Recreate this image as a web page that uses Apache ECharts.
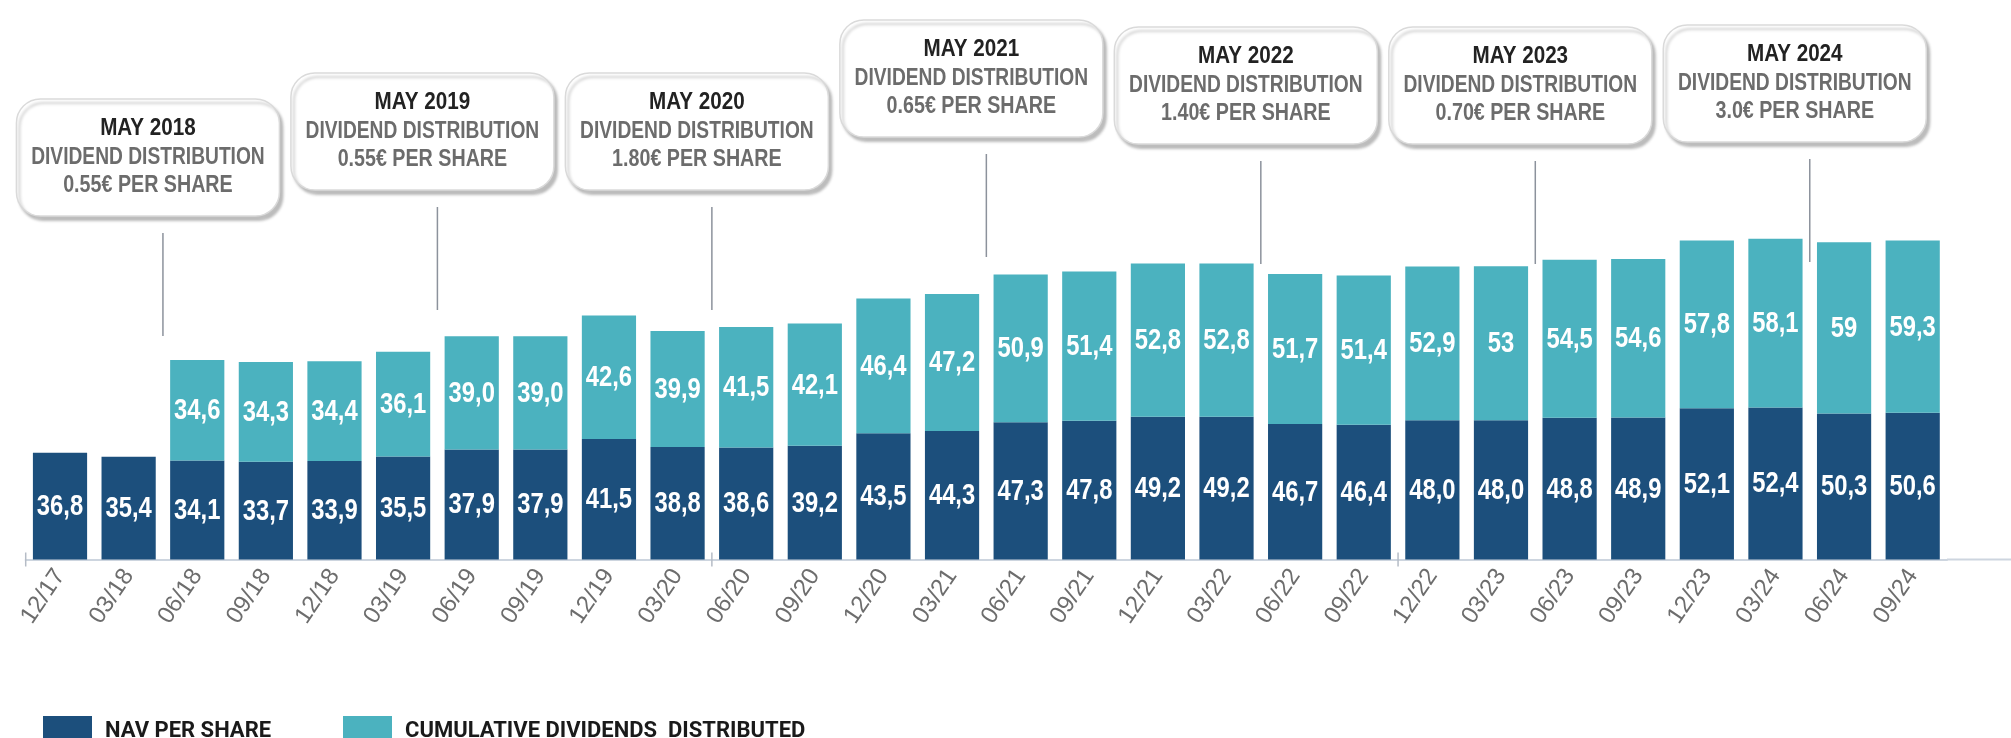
<!DOCTYPE html>
<html>
<head>
<meta charset="utf-8">
<script src="https://cdn.jsdelivr.net/npm/echarts@6/dist/echarts.min.js"></script>
<style>
  html, body { margin: 0; padding: 0; background: #ffffff; }
  #chart { width: 2011px; height: 738px; }
</style>
</head>
<body>
<div id="chart"></div>
<script>
// ---- data ----
const categories = ['12/17','03/18','06/18','09/18','12/18','03/19','06/19','09/19','12/19','03/20',
  '06/20','09/20','12/20','03/21','06/21','09/21','12/21','03/22','06/22','09/22',
  '12/22','03/23','06/23','09/23','12/23','03/24','06/24','09/24'];
const navValues = ['36.8','35.4','34.1','33.7','33.9','35.5','37.9','37.9','41.5','38.8',
  '38.6','39.2','43.5','44.3','47.3','47.8','49.2','49.2','46.7','46.4',
  '48.0','48.0','48.8','48.9','52.1','52.4','50.3','50.6'];
// NAV + cumulative dividends (value shown on the upper segment)
const totalValues = [null,null,'34.6','34.3','34.4','36.1','39.0','39.0','42.6','39.9',
  '41.5','42.1','46.4','47.2','50.9','51.4','52.8','52.8','51.7','51.4',
  '52.9','53','54.5','54.6','57.8','58.1','59','59.3'];
const dividendMonths = ['MAY 2018','MAY 2019','MAY 2020','MAY 2021','MAY 2022','MAY 2023','MAY 2024'];
const dividendAmounts = ['0.55€','0.55€','1.80€','0.65€','1.40€','0.70€','3.0€'];
const dividendFirstQuarterAfter = ['06/18','06/19','06/20','06/21','06/22','06/23','06/24'];
const seriesNames = ['NAV PER SHARE', 'CUMULATIVE DIVIDENDS  DISTRIBUTED'];
const axisTickBoundaries = [0, 10, 20];

// ---- layout / style ----
const boxTops = [99, 73, 73, 20, 27, 27, 25];
const BOX_W = 263, BOX_H = 117;
const SANS = '"Liberation Sans", Arial, sans-serif';
const NARROW_SCALE = 0.82;
const GRID_RIGHT = 64;
const GRID_BOTTOM = 178.5;
const AXIS_COLOR = '#cdd5df';
const TICK_COLOR = '#b5bcc6';

const chart = echarts.init(document.getElementById('chart'), null, { renderer: 'canvas' });

function narrowText(text, x, y, size, fill, scale) {
  return { type: 'text', x: x, y: y, scaleX: scale || NARROW_SCALE,
    style: { text: text, x: 0, y: 0, align: 'center', verticalAlign: 'middle',
      fontFamily: SANS, fontWeight: 'bold', fontSize: size, fill: fill } };
}

function renderAnnotation(params, api) {
  const i = params.dataIndex;
  const c = api.coord([api.value(0), 0]);
  const band = api.size([1, 0])[0];
  const lx = c[0] - band / 2;
  const top = boxTops[i];
  const bx = lx - 15 - BOX_W / 2;
  const cx = bx + BOX_W / 2;
  const lineTop = top + BOX_H + 17;
  return {
    type: 'group',
    children: [
      { type: 'line', shape: { x1: lx, y1: lineTop, x2: lx, y2: lineTop + 103 },
        style: { stroke: '#8c929c', lineWidth: 1.5 } },
      { type: 'rect', shape: { x: bx, y: top, width: BOX_W, height: BOX_H, r: 24 },
        style: { fill: '#ffffff', stroke: '#dadada', lineWidth: 1.5,
          shadowBlur: 3, shadowOffsetX: 3, shadowOffsetY: 4, shadowColor: 'rgba(0,0,0,0.25)' } },
      narrowText(dividendMonths[i], cx, top + 29, 24, '#222222', 0.86),
      narrowText('DIVIDEND DISTRIBUTION', cx, top + 58, 24, '#6c6c6c', 0.8),
      narrowText(dividendAmounts[i] + ' PER SHARE', cx, top + 86, 24, '#6c6c6c', 0.82)
    ]
  };
}

function renderBarLabels(params, api) {
  const idx = api.value(0);
  const nav = api.value(1);
  const total = api.value(2);
  const children = [];
  const p1 = api.coord([idx, nav / 2]);
  children.push(narrowText(navValues[params.dataIndex].replace('.', ','), p1[0], p1[1] + 1, 29, '#ffffff'));
  if (totalValues[params.dataIndex] !== null) {
    const p2 = api.coord([idx, nav + total / 2]);
    children.push(narrowText(totalValues[params.dataIndex].replace('.', ','), p2[0], p2[1] + 1, 29, '#ffffff'));
  }
  return { type: 'group', children: children };
}

function renderTicks(params, api) {
  const c = api.coord([api.value(0), 0]);
  const band = api.size([1, 0])[0];
  const x = c[0] - band / 2;
  return { type: 'line', shape: { x1: x, y1: c[1] - 7, x2: x, y2: c[1] + 7 },
    style: { stroke: TICK_COLOR, lineWidth: 1.5 } };
}

const legendText = { fontFamily: 'Roboto', fontWeight: 'bold', fontSize: 22, color: '#1a1a1a', padding: [4, 0, 0, 8] };

chart.setOption({
  backgroundColor: '#ffffff',
  animation: false,
  grid: { left: 25.7, right: GRID_RIGHT, top: 8, bottom: GRID_BOTTOM, containLabel: false },
  legend: [
    { data: [seriesNames[0]], left: 38, top: 711, itemWidth: 49, itemHeight: 30, icon: 'rect',
      selectedMode: false, textStyle: legendText },
    { data: [seriesNames[1]], left: 338, top: 711, itemWidth: 49, itemHeight: 30, icon: 'rect',
      selectedMode: false, textStyle: legendText }
  ],
  xAxis: { type: 'category', data: categories, position: 'bottom',
    axisLine: { show: true, lineStyle: { color: AXIS_COLOR, width: 2 } },
    axisTick: { show: false },
    axisLabel: { interval: 0, rotate: 56, margin: 12, fontSize: 24, color: '#6d6d6d', fontFamily: SANS } },
  yAxis: { type: 'value', min: 0, max: 190, show: false, splitLine: { show: false } },
  graphic: [
    { type: 'line', shape: { x1: 2011 - GRID_RIGHT, y1: 738 - GRID_BOTTOM, x2: 2011, y2: 738 - GRID_BOTTOM },
      style: { stroke: AXIS_COLOR, lineWidth: 2 }, silent: true }
  ],
  series: [
    { name: seriesNames[0], type: 'bar', stack: 'total',
      data: navValues.map(Number), barCategoryGap: '21%',
      itemStyle: { color: '#1c4f7c' } },
    { name: seriesNames[1], type: 'bar', stack: 'total',
      data: totalValues.map(v => v === null ? null : Number(v)), barCategoryGap: '21%',
      itemStyle: { color: '#4bb2bf' } },
    { type: 'custom', clip: false, silent: true, z: 4,
      data: categories.map((c, i) => [i, Number(navValues[i]), totalValues[i] === null ? 0 : Number(totalValues[i])]),
      encode: { x: 0, y: 1 },
      renderItem: renderBarLabels },
    { type: 'custom', clip: false, silent: true, z: 3,
      data: axisTickBoundaries.map(b => [b, 0]),
      encode: { x: 0, y: 1 },
      renderItem: renderTicks },
    { type: 'custom', clip: false, silent: true, z: 5,
      data: dividendFirstQuarterAfter.map(q => [categories.indexOf(q), 0]),
      encode: { x: 0, y: 1 },
      renderItem: renderAnnotation }
  ]
});
</script>
</body>
</html>
